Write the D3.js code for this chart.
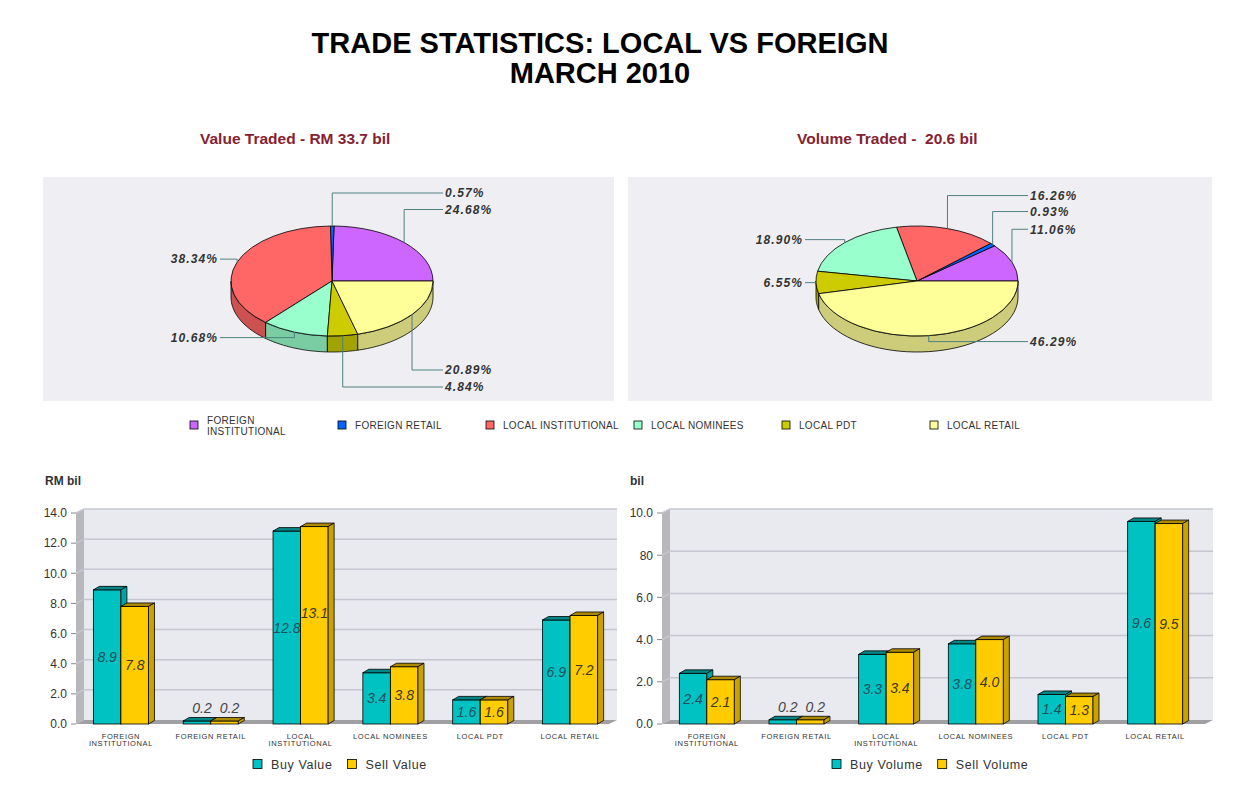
<!DOCTYPE html>
<html>
<head>
<meta charset="utf-8">
<script src="https://cdn.jsdelivr.net/npm/d3@7"></script>
<style>
    html, body { margin: 0; padding: 0; background: #fff; }
    svg text { font-family: "Liberation Sans", Arial, sans-serif; fill: #333; }
</style>
</head>
<body>
<div id="chart"></div>
<script>
// categorias comuns as pizzas e as barras
const categorias = ["FOREIGN INSTITUTIONAL", "FOREIGN RETAIL", "LOCAL INSTITUTIONAL", "LOCAL NOMINEES", "LOCAL PDT", "LOCAL RETAIL"];
const coresCategorias = ["#cc66ff", "#0066ff", "#ff6666", "#99ffcc", "#cccc00", "#ffff99"];

// percentuais das pizzas
const valorPercent = [24.68, 0.57, 38.34, 10.68, 4.84, 20.89];
const volumePercent = [11.06, 0.93, 16.26, 18.90, 6.55, 46.29];

// barras
const series = ["Buy", "Sell"];
const buyValue = [8.9, 0.2, 12.8, 3.4, 1.6, 6.9];
const sellValue = [7.8, 0.2, 13.1, 3.8, 1.6, 7.2];
const buyVolume = [2.4, 0.2, 3.3, 3.8, 1.4, 9.6];
const sellVolume = [2.1, 0.2, 3.4, 4.0, 1.3, 9.5];

const ticksValor = [0, 2, 4, 6, 8, 10, 12, 14];
const ticksValorLabels = ["0.0", "2.0", "4.0", "6.0", "8.0", "10.0", "12.0", "14.0"];
const ticksVolume = [0, 2, 4, 6, 8, 10];
const ticksVolumeLabels = ["0.0", "2.0", "4.0", "6.0", "80", "10.0"];

const width = 1248;
const height = 803;

const svg = d3
    .select("#chart")
    .append("svg")
    .attr("width", width)
    .attr("height", height);

svg.append("text")
    .attr("x", 600).attr("y", 53)
    .attr("text-anchor", "middle")
    .style("font-size", "29px").style("font-weight", "bold").style("fill", "#000")
    .text("TRADE STATISTICS: LOCAL VS FOREIGN");
svg.append("text")
    .attr("x", 600).attr("y", 83)
    .attr("text-anchor", "middle")
    .style("font-size", "29px").style("font-weight", "bold").style("fill", "#000")
    .text("MARCH 2010");

class GraficoPizza3D {
    constructor(svg, cfg) {
        this.svg = svg;
        Object.assign(this, cfg);
    }

    ponto(a) {
        return [this.cx + this.rx * Math.sin(a), this.cy - this.ry * Math.cos(a)];
    }

    render() {
        const g = this.svg.append("g");
        const [px, py, pw, ph] = this.painel;

        g.append("rect")
            .attr("x", px).attr("y", py).attr("width", pw).attr("height", ph)
            .attr("fill", "#efeff3");

        g.append("text")
            .attr("x", this.tituloX).attr("y", 144)
            .style("font-size", "15.5px").style("font-weight", "bold").style("fill", "#842232")
            .style("white-space", "pre")
            .text(this.titulo);

        const pie = d3.pie()
            .sort(null)
            .startAngle(Math.PI / 2)
            .endAngle(Math.PI / 2 - 2 * Math.PI)
            .value(d => d.valor);

        const fatias = pie(this.dados.map((v, i) => ({ valor: v, cor: coresCategorias[i] })));

        // lateral (so a metade da frente aparece)
        fatias.forEach(f => {
            const lo = Math.max(f.endAngle, -1.5 * Math.PI);
            const hi = Math.min(f.startAngle, -0.5 * Math.PI);
            if (lo >= hi) return;
            const cima = d3.range(0, 41).map(k => this.ponto(lo + (hi - lo) * k / 40));
            const baixo = cima.map(p => [p[0], p[1] + this.profundidade]).reverse();
            g.append("path")
                .attr("d", d3.line()(cima.concat(baixo)) + "Z")
                .attr("fill", d3.color(f.data.cor).darker(0.63))
                .attr("stroke", "#000")
                .attr("stroke-width", 0.8);
        });

        const arco = d3.arc().innerRadius(0).outerRadius(this.rx);
        g.append("g")
            .attr("transform", `translate(${this.cx},${this.cy}) scale(1,${this.ry / this.rx})`)
            .selectAll("path")
            .data(fatias)
            .join("path")
            .attr("d", arco)
            .attr("fill", d => d.data.cor)
            .attr("stroke", "#000")
            .attr("stroke-width", 0.8)
            .attr("vector-effect", "non-scaling-stroke");

        // rotulos com linhas de chamada
        const direita = [], esquerda = [];
        fatias.forEach(f => {
            const a = (f.startAngle + f.endAngle) / 2;
            const [x, y] = this.ponto(a);
            const item = { f, x, y, cos: Math.cos(a) };
            (Math.sin(a) >= 0 ? direita : esquerda).push(item);
        });

        const fundo = this.cy + this.ry + this.profundidade;
        const baixoDir = direita.filter(d => d.cos <= 0).sort((a, b) => a.y - b.y);
        direita.forEach(d => {
            if (d.cos > 0) d.ly = d.y - 33;
            else if (baixoDir.length > 1) d.ly = fundo + 18 + 17 * baixoDir.indexOf(d);
            else d.ly = d.y + 6 * (-d.cos);
            d.tx = this.cx + 113;
            d.lx = d.tx - 2;
            d.anchor = "start";
        });
        esquerda.forEach(d => {
            d.ly = d.y + (d.cos < 0 ? 6 * (-d.cos) : -3);
            d.tx = this.cx - 114;
            d.lx = d.tx + 2;
            d.anchor = "end";
        });

        const rotulos = direita.concat(esquerda);
        g.selectAll("path.chamada")
            .data(rotulos)
            .join("path")
            .attr("class", "chamada")
            .attr("d", d => `M${d.x},${d.y}V${d.ly}H${d.lx}`)
            .attr("fill", "none")
            .attr("stroke", "#4f8080")
            .attr("stroke-width", 1);

        g.selectAll("text.rotulo")
            .data(rotulos)
            .join("text")
            .attr("class", "rotulo")
            .attr("x", d => d.tx)
            .attr("y", d => d.ly + 4.3)
            .attr("text-anchor", d => d.anchor)
            .style("font-size", "12px")
            .style("font-weight", "bold")
            .style("font-style", "italic")
            .style("letter-spacing", "1.1px")
            .text(d => d.f.data.valor.toFixed(2) + "%");
    }
}

class GraficoBarras3D {
    constructor(svg, cfg) {
        this.svg = svg;
        Object.assign(this, cfg);
    }

    render() {
        const g = this.svg.append("g");
        const { x0, x1, xr, dx, dy, bdx, bdy } = this;

        const x = d3.scaleBand().domain(categorias).range([x0, x1]);
        const xs = d3.scaleBand().domain(series).range([0, x.bandwidth()]).paddingOuter(0.63);
        const y = d3.scaleLinear().domain([0, this.maximo]).range([724, 513]);
        const base = y(0), topo = y(this.maximo);

        // paredes
        g.append("rect")
            .attr("x", x0 + dx).attr("y", topo - dy)
            .attr("width", xr - x0 - dx).attr("height", base - topo)
            .attr("fill", "#e9e9f0");
        g.append("path")
            .attr("d", `M${x0},${topo}L${x0 + dx},${topo - dy}V${base - dy}L${x0},${base}Z`)
            .attr("fill", "#b7b7bc");
        g.append("path")
            .attr("d", `M${x0},${base}L${x0 + dx},${base - dy}H${xr}L${xr - dx},${base}Z`)
            .attr("fill", "#a0a0a4");

        g.selectAll("path.grade")
            .data(this.ticks.slice(1))
            .join("path")
            .attr("class", "grade")
            .attr("d", t => `M${x0},${y(t)}L${x0 + dx},${y(t) - dy}H${xr}`)
            .attr("fill", "none")
            .attr("stroke", "#c6c6d0")
            .attr("stroke-width", 1.5);

        g.selectAll("line.tick")
            .data(this.ticks)
            .join("line")
            .attr("class", "tick")
            .attr("x1", x0 - 5).attr("x2", x0)
            .attr("y1", d => y(d)).attr("y2", d => y(d))
            .attr("stroke", "#888");

        g.selectAll("text.tick")
            .data(this.ticks)
            .join("text")
            .attr("class", "tick")
            .attr("x", x0 - 9)
            .attr("y", d => y(d) + 4.3)
            .attr("text-anchor", "end")
            .style("font-size", "12px")
            .text((d, i) => this.tickLabels[i]);

        g.append("text")
            .attr("x", this.unidadeX).attr("y", 485)
            .style("font-size", "12px").style("font-weight", "bold")
            .text(this.unidade);

        // barras
        const estilos = [
            { frente: "#00c2c2", topo: "#008686", lado: "#00a2a2", texto: "#1f4f5c" },
            { frente: "#ffcc00", topo: "#ad8a00", lado: "#c9a200", texto: "#3d3722" }
        ];
        categorias.forEach((c, i) => {
            const rot = [];
            series.forEach((s, k) => {
                const v = this.valores[k][i];
                const bx = x(c) + xs(s), bw = xs.bandwidth(), by = y(v);
                const est = estilos[k];
                g.append("rect")
                    .attr("x", bx).attr("y", by).attr("width", bw).attr("height", base - by)
                    .attr("fill", est.frente).attr("stroke", "#000").attr("stroke-width", 0.8);
                g.append("path")
                    .attr("d", `M${bx},${by}L${bx + bdx},${by - bdy}H${bx + bw + bdx}L${bx + bw},${by}Z`)
                    .attr("fill", est.topo).attr("stroke", "#000").attr("stroke-width", 0.8);
                g.append("path")
                    .attr("d", `M${bx + bw},${by}L${bx + bw + bdx},${by - bdy}V${base - bdy}L${bx + bw},${base}Z`)
                    .attr("fill", est.lado).attr("stroke", "#000").attr("stroke-width", 0.8);

                const dentro = base - by >= 18;
                const t = g.append("text")
                    .attr("x", dentro ? bx + bw / 2 : bx + bw / 2 + bdx / 2 + 2)
                    .attr("y", (dentro ? (by + base) / 2 : by - bdy - 9) + 5)
                    .attr("text-anchor", "middle")
                    .style("font-size", "14px")
                    .style("font-style", "italic")
                    .style("fill", dentro ? est.texto : "#444")
                    .text(v.toFixed(1));
                rot.push({ t, cx: bx + bw / 2, cy: (by + base) / 2, w: t.node().getComputedTextLength(), dentro });
            });
            const [a, b] = rot;
            if (a.dentro && b.dentro && Math.abs(a.cy - b.cy) < 14 && (a.w + b.w) / 2 + 1 > b.cx - a.cx) {
                b.t.attr("y", a.cy - 15 + 5);
            }
        });

        // rotulos das categorias
        categorias.forEach(c => {
            const t = g.append("text")
                .attr("x", x(c) + x.bandwidth() / 2)
                .attr("y", 738.7)
                .attr("text-anchor", "middle")
                .style("font-size", "7.5px")
                .style("letter-spacing", "0.6px")
                .text(c);
            if (t.node().getComputedTextLength() > x.bandwidth()) {
                const partes = c.split(" ");
                t.text(null);
                partes.forEach((p, j) => {
                    t.append("tspan")
                        .attr("x", x(c) + x.bandwidth() / 2)
                        .attr("dy", j === 0 ? 0 : 7)
                        .text(p);
                });
            }
        });

        // legenda
        let lx = this.legendaX;
        this.legenda.forEach((nome, k) => {
            g.append("rect")
                .attr("x", lx).attr("y", 759.5).attr("width", 9).attr("height", 9)
                .attr("fill", estilos[k].frente).attr("stroke", "#000").attr("stroke-width", 0.8);
            const t = g.append("text")
                .attr("x", lx + 18).attr("y", 768.5)
                .style("font-size", "12.5px")
                .style("letter-spacing", "0.6px")
                .text(nome);
            lx += 18 + t.node().getComputedTextLength() + 15;
        });
    }
}

new GraficoPizza3D(svg, {
    dados: valorPercent,
    titulo: "Value Traded - RM 33.7 bil",
    tituloX: 200,
    painel: [43, 177, 571, 224],
    cx: 332, cy: 281, rx: 101, ry: 55, profundidade: 16
}).render();

new GraficoPizza3D(svg, {
    dados: volumePercent,
    titulo: "Volume Traded -  20.6 bil",
    tituloX: 797,
    painel: [628, 177, 584, 224],
    cx: 917, cy: 281, rx: 101, ry: 55, profundidade: 16
}).render();

// legenda das pizzas
const legenda = svg.append("g");
categorias.forEach((c, i) => {
    const lx = 190 + i * 148;
    legenda.append("rect")
        .attr("x", lx).attr("y", 421).attr("width", 8).attr("height", 8)
        .attr("fill", coresCategorias[i]).attr("stroke", "#000").attr("stroke-width", 0.8);
    const t = legenda.append("text")
        .attr("x", lx + 17).attr("y", 428.6)
        .style("font-size", "10px")
        .style("letter-spacing", "0.3px")
        .text(c);
    if (t.node().getComputedTextLength() > 122) {
        const i0 = c.indexOf(" ");
        t.text(null).attr("y", 423.5);
        t.append("tspan").attr("x", lx + 17).text(c.slice(0, i0));
        t.append("tspan").attr("x", lx + 17).attr("dy", 11).text(c.slice(i0 + 1));
    }
});

new GraficoBarras3D(svg, {
    valores: [buyValue, sellValue],
    maximo: 14,
    ticks: ticksValor,
    tickLabels: ticksValorLabels,
    unidade: "RM bil", unidadeX: 45,
    legenda: ["Buy Value", "Sell Value"], legendaX: 253,
    x0: 76, x1: 615, xr: 617, dx: 8, dy: 4, bdx: 6, bdy: 3.5
}).render();

new GraficoBarras3D(svg, {
    valores: [buyVolume, sellVolume],
    maximo: 10,
    ticks: ticksVolume,
    tickLabels: ticksVolumeLabels,
    unidade: "bil", unidadeX: 630,
    legenda: ["Buy Volume", "Sell Volume"], legendaX: 832,
    x0: 662, x1: 1200, xr: 1213, dx: 8, dy: 4, bdx: 6, bdy: 3.5
}).render();
</script>
</body>
</html>
